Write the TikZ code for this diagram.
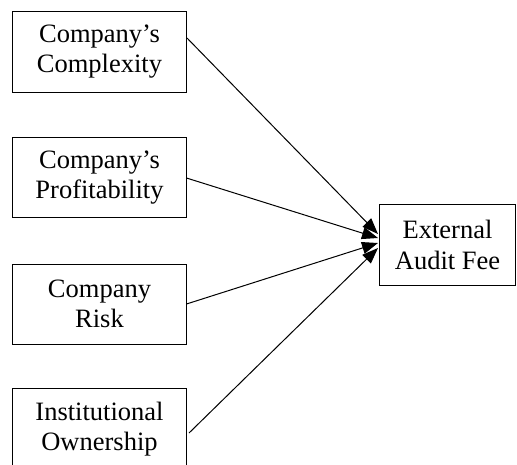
\documentclass[tikz,border=0pt]{standalone}
\usepackage{fontspec}
\setmainfont{Liberation Serif}
\usetikzlibrary{arrows.meta}
\begin{document}
\begin{tikzpicture}[x=1pt,y=-1pt,
  box/.style={draw=black, line width=1pt, rectangle, minimum width=174pt, minimum height=80.5pt, align=center, inner sep=0pt,
    font=\fontsize{26.5}{30}\selectfont},
  openbox/.style={rectangle, minimum width=174pt, minimum height=81pt, align=center, inner sep=0pt,
    font=\fontsize{26.5}{30}\selectfont},
  conn/.style={line width=1pt, -{Triangle[length=16pt,width=12pt]}}]
\useasboundingbox (0,0) rectangle (517,464);
\node[box] (b1) at (99.5,52) {Company’s\\Complexity};
\node[box] (b2) at (99.5,177.5) {Company’s\\Profitability};
\node[box] (b3) at (99.5,304.25) {Company\\Risk};
\node[openbox] (b4) at (99.5,429.5) {Institutional\\Ownership};
\draw[line width=1pt] (b4.south west) -- (b4.north west) -- (b4.north east) -- (b4.south east);
\node[draw=black, line width=1pt, rectangle, minimum width=136.5pt, minimum height=81pt, align=center, inner sep=0pt,
    font=\fontsize{26.5}{31}\selectfont] (fee) at (447.5,244.8) {External\\Audit Fee};
\coordinate (s1) at (187,38);
\coordinate (s2) at (186.5,178);
\coordinate (s3) at (186.5,304);
\coordinate (s4) at (189,433);
\coordinate (t1) at (378,234);
\coordinate (t2) at (378,238);
\coordinate (t3) at (378,243);
\coordinate (t4) at (378,248);
\draw[conn] (s1) -- (t1);
\draw[conn] (s2) -- (t2);
\draw[conn] (s3) -- (t3);
\draw[conn] (s4) -- (t4);
\end{tikzpicture}
\end{document}
